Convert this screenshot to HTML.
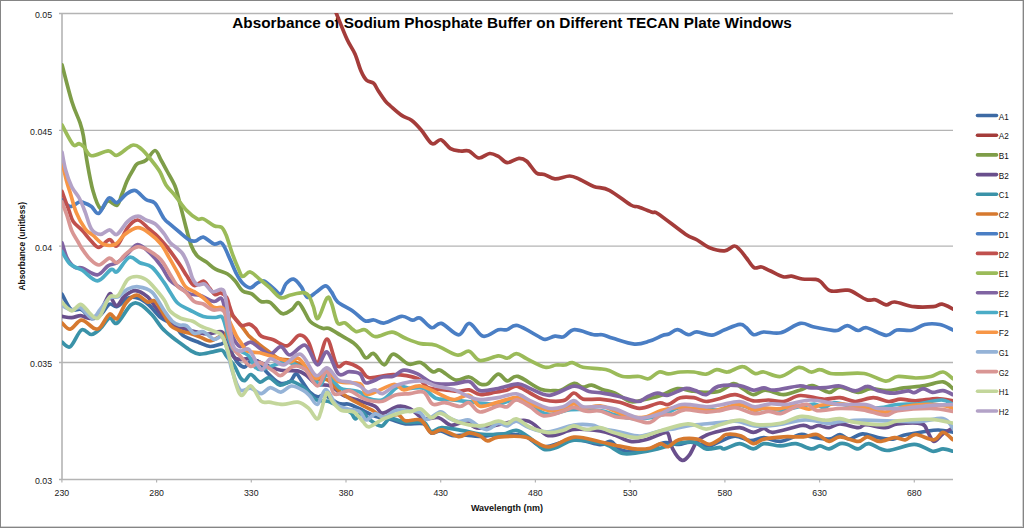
<!DOCTYPE html>
<html><head><meta charset="utf-8"><style>
html,body{margin:0;padding:0;background:#fff;}
body{width:1024px;height:528px;position:relative;overflow:hidden;font-family:"Liberation Sans",sans-serif;}
svg text{font-family:"Liberation Sans",sans-serif;}
.wrap{position:absolute;left:0;top:0;width:1024px;height:528px;}
.frame{position:absolute;left:0;top:0;width:1024px;height:528px;box-sizing:border-box;border-left:1px solid #858585;border-top:1px solid #858585;border-right:1px solid #858585;border-bottom:1px solid #858585;box-shadow:inset -1px -1px 0 #d2d2d2;}
</style></head><body>
<div class="wrap"><svg width="1024" height="528" viewBox="0 0 1024 528" style="position:absolute;left:0;top:0"><defs><clipPath id="pa"><rect x="62" y="13" width="891" height="467"/></clipPath></defs><line x1="59" y1="13.5" x2="953" y2="13.5" stroke="#b4b4b4" stroke-width="1.3"/><line x1="59" y1="130.4" x2="953" y2="130.4" stroke="#b4b4b4" stroke-width="1.3"/><line x1="59" y1="246.2" x2="953" y2="246.2" stroke="#b4b4b4" stroke-width="1.3"/><line x1="59" y1="362.5" x2="953" y2="362.5" stroke="#b4b4b4" stroke-width="1.3"/><line x1="62" y1="13.5" x2="62" y2="479.5" stroke="#b4b4b4" stroke-width="1.6"/><line x1="59" y1="479.5" x2="953" y2="479.5" stroke="#b4b4b4" stroke-width="1.6"/><line x1="61.9" y1="479.5" x2="61.9" y2="482.5" stroke="#b4b4b4" stroke-width="1.2"/><line x1="156.6" y1="479.5" x2="156.6" y2="482.5" stroke="#b4b4b4" stroke-width="1.2"/><line x1="251.3" y1="479.5" x2="251.3" y2="482.5" stroke="#b4b4b4" stroke-width="1.2"/><line x1="346.0" y1="479.5" x2="346.0" y2="482.5" stroke="#b4b4b4" stroke-width="1.2"/><line x1="440.7" y1="479.5" x2="440.7" y2="482.5" stroke="#b4b4b4" stroke-width="1.2"/><line x1="535.4" y1="479.5" x2="535.4" y2="482.5" stroke="#b4b4b4" stroke-width="1.2"/><line x1="630.2" y1="479.5" x2="630.2" y2="482.5" stroke="#b4b4b4" stroke-width="1.2"/><line x1="724.9" y1="479.5" x2="724.9" y2="482.5" stroke="#b4b4b4" stroke-width="1.2"/><line x1="819.6" y1="479.5" x2="819.6" y2="482.5" stroke="#b4b4b4" stroke-width="1.2"/><line x1="914.3" y1="479.5" x2="914.3" y2="482.5" stroke="#b4b4b4" stroke-width="1.2"/><text x="512" y="28.1" font-size="15.4" font-weight="bold" fill="#000" text-anchor="middle" textLength="559.5" lengthAdjust="spacingAndGlyphs">Absorbance of Sodium Phosphate Buffer on Different TECAN Plate Windows</text><g clip-path="url(#pa)" fill="none" stroke-width="3.7" stroke-linejoin="round" stroke-linecap="round"><path d="M62.0 294.1C63.5 296.6 67.7 306.6 70.9 309.2C74.2 311.8 78.1 307.9 81.5 309.5C84.9 311.1 88.2 317.7 91.4 318.6C94.6 319.5 97.5 317.2 100.5 314.8C103.5 312.4 106.8 305.6 109.5 304.2C112.2 302.8 114.0 307.5 117.0 306.5C120.0 305.5 124.2 299.6 127.7 298.2C131.2 296.8 134.8 297.1 138.3 298.2C141.9 299.3 145.2 301.7 149.0 305.0C152.8 308.3 156.7 314.5 161.0 317.9C165.3 321.3 171.4 322.6 175.0 325.5C178.6 328.4 178.6 332.3 182.7 335.2C186.8 338.1 194.8 340.8 199.4 342.7C204.0 344.6 206.5 346.2 210.0 346.5C213.5 346.8 217.8 344.8 220.6 344.2C223.4 343.6 224.7 340.9 226.7 342.7C228.7 344.5 230.7 351.3 232.7 354.8C234.7 358.3 236.8 361.9 238.8 363.9C240.8 365.9 242.8 367.5 244.8 367.0C246.8 366.5 248.4 361.7 250.9 360.9C253.4 360.1 257.5 360.6 260.0 362.4C262.5 364.2 262.9 368.1 266.1 371.5C269.3 374.9 275.4 381.3 279.4 383.0C283.4 384.7 287.2 383.0 290.0 381.5C292.8 380.0 294.0 373.9 296.0 373.9C298.0 373.9 299.8 378.5 302.1 381.5C304.4 384.5 307.1 389.6 309.7 392.1C312.3 394.7 315.1 396.3 317.6 396.8C320.1 397.3 321.3 394.1 324.8 395.2C328.3 396.3 334.8 402.1 338.8 403.6C342.9 405.1 345.6 403.3 349.1 404.2C352.6 405.1 355.6 407.0 360.0 409.0C364.4 411.0 370.1 414.5 375.2 416.2C380.2 417.9 385.2 417.9 390.3 419.2C395.4 420.5 399.9 423.0 405.5 423.8C411.1 424.6 419.3 422.3 423.6 423.8C427.9 425.3 428.4 431.8 431.2 433.0C434.0 434.2 437.0 430.4 440.5 430.8C444.0 431.2 447.7 434.8 452.0 435.5C456.3 436.2 461.4 435.1 466.1 435.2C470.8 435.3 473.9 436.6 480.0 436.4C486.1 436.2 495.1 434.1 502.7 434.1C510.3 434.1 518.7 434.2 525.5 436.4C532.3 438.5 535.5 446.5 543.6 447.0C551.7 447.5 564.5 439.8 573.9 439.4C583.3 439.0 593.9 444.4 600.0 444.7C606.1 445.0 606.8 440.4 610.6 441.4C614.4 442.4 616.9 449.0 622.7 450.5C628.5 452.0 638.7 451.8 645.5 450.5C652.3 449.2 658.1 443.9 663.6 442.9C669.1 441.9 674.2 444.5 678.8 444.4C683.3 444.3 685.8 441.9 690.9 442.1C696.0 442.4 704.2 446.0 709.1 445.9C714.0 445.8 715.6 443.0 720.0 441.4C724.4 439.8 730.2 436.2 735.2 436.1C740.2 436.0 745.5 440.4 750.3 440.6C755.1 440.9 758.8 437.5 763.9 437.6C769.0 437.7 774.5 441.9 780.6 441.4C786.7 440.9 795.2 435.3 800.3 434.5C805.3 433.7 806.1 436.0 810.9 436.8C815.7 437.6 824.2 439.5 829.1 439.1C834.0 438.7 836.7 434.5 840.0 434.5C843.3 434.5 845.3 439.2 849.1 439.1C852.9 439.0 857.9 434.1 862.7 433.8C867.5 433.6 872.9 436.7 877.9 437.6C882.9 438.5 888.7 439.5 893.0 439.1C897.3 438.7 898.3 436.6 903.6 435.3C908.9 434.0 919.0 432.4 924.8 431.5C930.6 430.6 933.8 429.9 938.5 430.0C943.2 430.1 950.6 431.9 953.0 432.3" stroke="#3D6AA4"/><path d="M330.0 -2.0C331.1 0.6 333.6 6.6 336.4 13.5C339.2 20.4 343.9 32.5 347.0 39.3C350.1 46.0 352.7 48.8 355.0 54.0C357.3 59.2 358.9 66.1 360.8 70.5C362.7 74.9 364.5 78.2 366.6 80.3C368.7 82.4 371.5 81.4 373.5 83.2C375.5 85.0 376.4 88.1 378.4 91.0C380.3 93.9 383.3 98.4 385.2 100.8C387.1 103.2 387.2 103.2 390.0 105.6C392.8 108.0 398.1 113.0 401.7 115.4C405.3 117.9 408.2 117.9 411.5 120.3C414.8 122.7 417.8 126.1 421.2 130.0C424.7 133.9 428.7 142.1 432.0 143.7C435.3 145.3 437.7 139.0 440.8 139.8C443.9 140.6 447.2 146.7 450.5 148.6C453.8 150.5 457.2 150.6 460.3 151.0C463.4 151.4 465.9 149.8 469.0 151.0C472.1 152.2 475.5 157.6 478.9 158.0C482.3 158.4 486.4 153.8 489.6 153.5C492.9 153.2 495.5 154.9 498.4 156.4C501.3 157.9 503.8 162.4 507.2 162.7C510.6 163.0 515.6 158.6 518.9 158.4C522.1 158.2 523.8 158.9 526.7 161.3C529.6 163.7 533.6 170.8 536.5 173.0C539.4 175.2 541.2 173.4 544.3 174.4C547.4 175.4 550.8 178.6 555.0 178.9C559.2 179.2 565.5 175.9 569.7 176.0C573.9 176.1 576.0 177.8 580.0 179.5C584.0 181.2 588.8 184.6 593.7 186.4C598.6 188.2 603.1 187.2 609.3 190.3C615.5 193.4 625.9 202.2 630.8 205.0C635.7 207.8 635.0 205.7 638.6 206.9C642.2 208.1 649.1 211.2 652.3 212.3C655.5 213.4 652.5 210.0 658.0 213.7C663.5 217.3 679.0 229.8 685.5 234.2C692.0 238.6 693.3 237.8 697.2 240.0C701.1 242.2 704.5 245.7 709.0 247.5C713.5 249.3 720.3 251.1 724.5 250.8C728.7 250.6 731.7 246.1 734.3 246.0C736.9 245.9 738.0 248.0 740.0 250.0C742.0 252.0 744.1 255.1 746.4 258.0C748.7 260.9 751.5 266.1 754.0 267.6C756.5 269.1 758.8 266.5 761.5 267.0C764.2 267.5 766.4 269.2 770.0 270.8C773.6 272.4 779.4 275.9 783.0 276.8C786.6 277.7 788.4 275.8 791.6 276.2C794.8 276.6 798.4 278.5 802.3 279.0C806.2 279.5 812.2 279.0 815.2 279.4C818.2 279.8 818.1 279.7 820.6 281.6C823.1 283.5 826.1 289.4 830.2 290.8C834.3 292.2 841.7 290.1 845.3 290.2C848.9 290.3 848.1 289.6 851.7 291.2C855.3 292.8 862.8 298.4 866.7 299.8C870.6 301.2 872.1 299.0 875.3 299.8C878.5 300.6 882.8 304.4 886.0 304.8C889.2 305.2 890.0 301.7 894.7 302.0C899.4 302.3 907.6 305.9 914.0 306.7C920.4 307.5 928.6 307.1 933.3 306.7C938.0 306.3 938.7 303.7 942.0 304.1C945.3 304.5 951.2 308.2 953.0 309.0" stroke="#A43C3A"/><path d="M62.0 64.8C63.7 71.0 69.0 92.3 72.0 102.0C75.0 111.7 78.1 117.0 80.0 122.7C81.9 128.4 82.3 129.7 83.4 136.0C84.5 142.3 85.2 151.2 86.8 160.3C88.4 169.4 90.6 182.5 92.9 190.6C95.2 198.7 98.0 207.0 100.5 208.7C103.0 210.4 105.2 201.6 108.0 201.0C110.8 200.4 114.7 206.5 117.0 205.3C119.3 204.1 120.3 198.1 122.0 194.0C123.7 189.9 125.2 185.0 127.0 181.0C128.8 177.0 131.3 172.8 133.0 170.0C134.7 167.2 134.8 165.6 137.0 164.0C139.2 162.4 143.0 162.6 146.0 160.3C149.0 158.1 152.5 150.6 155.0 150.5C157.5 150.4 159.0 156.6 161.0 160.0C163.0 163.4 164.7 166.7 167.0 171.0C169.3 175.3 173.0 181.2 175.0 186.0C177.0 190.8 177.3 193.6 179.0 200.0C180.7 206.4 183.2 216.6 185.2 224.2C187.2 231.8 189.2 240.2 191.2 245.5C193.2 250.8 194.8 253.2 197.3 256.0C199.8 258.8 203.4 259.9 206.4 262.1C209.4 264.3 212.0 267.2 215.5 269.2C219.0 271.2 224.3 272.0 227.6 274.0C230.9 276.0 232.7 278.2 235.2 281.0C237.7 283.8 239.9 288.8 242.7 290.9C245.5 293.0 248.8 292.1 251.8 293.9C254.8 295.7 257.9 300.1 260.9 301.5C263.9 302.9 266.5 300.3 270.0 302.3C273.5 304.3 278.4 312.4 282.1 313.6C285.8 314.8 289.4 311.2 292.1 309.4C294.8 307.6 296.2 302.4 298.2 302.6C300.2 302.9 302.2 307.8 304.2 310.9C306.2 314.0 307.3 318.6 310.3 321.5C313.3 324.4 319.4 327.2 322.4 328.3C325.4 329.4 325.5 327.2 328.5 328.3C331.5 329.4 336.5 332.8 340.6 335.2C344.7 337.6 350.1 340.3 353.3 342.7C356.5 345.1 357.9 347.1 360.0 349.7C362.1 352.2 363.8 357.4 366.1 358.0C368.4 358.6 370.6 352.4 373.6 353.5C376.6 354.6 380.9 364.7 384.2 364.8C387.5 364.9 389.2 354.3 393.3 354.2C397.4 354.1 403.9 362.7 408.5 364.1C413.1 365.5 416.6 361.3 420.6 362.6C424.6 363.9 429.4 370.4 432.7 371.7C436.0 373.0 436.5 368.8 440.3 370.2C444.1 371.6 450.7 378.9 455.5 380.0C460.3 381.1 465.0 376.4 469.1 377.0C473.2 377.6 476.9 382.8 480.0 383.9C483.1 385.0 484.6 385.5 487.6 383.9C490.6 382.3 494.9 374.6 498.2 374.1C501.5 373.6 504.0 380.5 507.3 380.9C510.6 381.3 512.4 375.0 517.9 376.4C523.4 377.8 534.3 386.8 540.6 389.2C546.9 391.6 552.3 390.5 555.8 390.6C559.3 390.8 558.3 391.3 561.4 390.1C564.5 388.9 570.7 383.9 574.2 383.4C577.7 382.9 579.7 386.9 582.6 387.2C585.5 387.5 588.3 384.8 591.7 385.2C595.1 385.6 599.1 388.4 603.0 389.7C606.9 391.0 610.7 391.2 615.2 393.2C619.8 395.2 625.8 400.4 630.3 401.5C634.8 402.6 637.3 401.0 642.4 400.0C647.5 399.0 654.8 397.4 660.6 395.5C666.4 393.6 672.2 389.4 677.3 388.6C682.3 387.8 686.1 390.3 690.9 390.9C695.7 391.5 701.2 392.4 706.1 392.4C711.0 392.4 715.4 392.4 720.0 390.9C724.6 389.4 729.8 384.0 733.6 383.6C737.4 383.2 739.4 386.8 742.7 388.6C746.0 390.5 749.5 394.4 753.3 394.7C757.1 395.0 760.5 390.2 765.5 390.2C770.5 390.2 777.6 394.8 783.6 394.7C789.6 394.6 797.0 390.9 801.8 389.4C806.6 387.9 807.8 385.1 812.4 385.6C817.0 386.1 824.5 392.1 829.1 392.4C833.7 392.6 835.1 387.1 840.0 387.1C844.9 387.1 853.2 392.1 858.2 392.4C863.2 392.6 865.5 388.9 870.3 388.6C875.1 388.3 881.5 390.7 887.0 390.6C892.5 390.5 897.3 388.7 903.6 387.9C909.9 387.1 918.2 386.6 924.8 385.6C931.4 384.6 938.3 381.3 943.0 381.8C947.7 382.3 951.3 387.5 953.0 388.6" stroke="#7E9D48"/><path d="M62.0 316.4C63.6 316.6 68.5 317.7 71.6 317.6C74.7 317.5 77.7 315.6 80.7 315.7C83.7 315.8 86.8 318.6 89.8 318.3C92.8 318.0 95.6 317.8 98.9 313.8C102.2 309.8 107.2 296.4 109.5 294.1C111.8 291.8 111.2 298.2 112.5 300.2C113.8 302.1 115.0 306.5 117.0 305.8C119.0 305.1 121.7 298.5 124.7 296.0C127.8 293.5 131.5 290.5 135.3 290.6C139.1 290.7 143.6 293.4 147.4 296.7C151.2 300.0 154.2 306.0 158.0 310.3C161.8 314.6 166.0 319.4 170.0 322.4C174.0 325.3 177.7 326.4 182.0 328.0C186.3 329.6 191.5 330.8 195.8 331.8C200.1 332.8 203.7 334.0 208.0 334.0C212.3 334.0 218.5 330.8 221.5 331.8C224.5 332.8 224.1 336.0 226.0 340.0C227.9 344.0 230.7 352.8 233.0 356.0C235.3 359.2 237.1 359.0 240.0 359.5C242.9 360.0 246.0 357.8 250.6 358.8C255.2 359.8 262.2 363.7 267.3 365.6C272.4 367.5 275.8 369.3 280.9 370.2C285.9 371.1 293.3 370.0 297.6 370.9C301.9 371.8 303.7 373.4 306.7 375.5C309.7 377.6 311.8 382.1 315.8 383.8C319.8 385.6 326.4 384.1 330.9 386.0C335.4 387.9 338.1 392.7 343.0 395.2C347.9 397.7 354.6 399.1 360.0 401.0C365.4 402.9 371.4 404.4 375.2 406.4C379.0 408.4 378.9 413.2 382.7 413.2C386.5 413.2 393.3 407.2 397.9 406.4C402.4 405.6 405.7 406.6 410.0 408.6C414.3 410.6 418.8 417.0 423.6 418.5C428.4 420.0 434.2 416.6 438.8 417.7C443.4 418.8 446.3 424.7 450.9 425.3C455.4 425.9 461.2 421.0 466.1 421.5C471.0 422.0 470.1 428.4 480.0 428.2C489.9 428.0 514.1 419.3 525.5 420.5C536.9 421.7 540.1 434.1 548.2 435.6C556.3 437.1 565.3 430.3 573.9 429.5C582.5 428.7 593.1 430.0 600.0 431.0C606.9 432.0 610.2 433.6 615.2 435.3C620.2 437.0 625.2 440.6 630.3 441.4C635.3 442.1 640.0 441.2 645.5 439.8C651.0 438.4 659.8 434.0 663.6 433.0C667.4 432.0 666.7 431.2 668.2 433.8C669.7 436.4 670.4 444.5 672.7 448.9C675.0 453.3 679.0 459.3 681.8 460.3C684.6 461.3 686.9 458.1 689.4 455.0C691.9 451.9 694.2 444.7 697.0 441.4C699.8 438.1 702.3 437.0 706.1 435.3C709.9 433.6 714.4 432.3 720.0 431.0C725.6 429.7 734.2 427.5 739.7 427.7C745.2 427.9 749.3 432.2 753.3 432.3C757.3 432.4 760.6 428.5 763.9 428.5C767.2 428.5 766.7 432.8 773.0 432.3C779.3 431.8 795.5 426.3 801.8 425.5C808.1 424.7 808.1 427.7 810.9 427.7C813.7 427.7 815.5 425.5 818.5 425.5C821.5 425.5 825.5 428.0 829.1 427.7C832.7 427.4 835.1 423.9 840.0 423.9C844.9 423.9 853.9 427.6 858.2 427.7C862.5 427.8 861.2 424.7 865.8 424.7C870.3 424.7 880.2 427.8 885.5 427.7C890.8 427.6 891.6 424.5 897.6 423.9C903.6 423.3 916.8 422.5 921.8 423.9C926.8 425.3 925.9 429.4 927.9 432.3C929.9 435.2 931.4 441.1 933.9 441.4C936.4 441.6 939.8 436.1 943.0 433.8C946.2 431.5 951.3 428.7 953.0 427.7" stroke="#694F8C"/><path d="M62.0 342.1C63.4 342.9 67.0 348.7 70.2 346.7C73.5 344.7 78.0 332.0 81.5 330.0C85.0 328.0 88.2 334.8 91.4 334.5C94.6 334.2 97.5 331.3 100.5 328.5C103.5 325.7 106.8 318.8 109.5 317.9C112.2 317.0 113.5 325.3 117.0 323.2C120.5 321.1 127.0 308.2 130.8 305.0C134.6 301.8 136.3 302.6 139.8 304.2C143.3 305.8 148.3 310.8 152.0 314.8C155.7 318.8 158.7 324.3 162.0 328.0C165.3 331.7 169.1 334.6 172.0 337.0C174.9 339.4 176.6 340.5 179.7 342.7C182.8 344.9 187.0 348.4 190.3 350.3C193.6 352.2 195.6 353.9 199.4 354.1C203.2 354.4 209.2 352.4 213.0 351.8C216.8 351.2 219.8 349.5 222.1 350.3C224.4 351.1 224.7 353.9 226.7 356.4C228.7 358.9 231.9 362.0 234.2 365.5C236.5 369.0 238.5 375.1 240.3 377.6C242.1 380.1 243.0 381.1 244.8 380.6C246.6 380.1 248.4 374.2 250.9 374.5C253.4 374.8 257.0 381.6 260.0 382.1C263.0 382.6 265.8 377.1 269.1 377.6C272.4 378.1 276.3 384.6 280.0 385.2C283.7 385.8 287.6 381.1 291.5 381.5C295.4 381.9 299.6 384.6 303.6 387.6C307.7 390.6 311.8 397.4 315.8 399.7C319.9 402.0 323.9 400.0 327.9 401.2C331.9 402.4 336.2 405.1 340.0 407.0C343.8 408.9 348.3 410.7 350.9 412.7C353.5 414.7 353.6 418.9 355.5 418.8C357.4 418.7 359.7 411.9 362.0 412.0C364.3 412.1 365.9 416.8 369.1 419.2C372.3 421.6 377.7 426.2 381.2 426.1C384.7 426.0 386.2 419.1 390.3 418.5C394.4 417.9 399.9 421.7 405.5 422.3C411.1 422.9 419.3 420.8 423.6 422.3C427.9 423.8 428.2 430.5 431.2 431.4C434.2 432.3 436.5 427.7 441.8 427.6C447.1 427.5 456.6 429.5 463.0 430.6C469.4 431.7 473.4 433.4 480.0 434.0C486.6 434.6 496.6 434.7 502.7 434.1C508.8 433.5 511.8 429.7 516.4 430.3C520.9 430.9 525.5 434.8 530.0 437.9C534.5 441.0 539.3 447.6 543.6 449.2C547.9 450.8 550.8 449.2 555.8 447.7C560.8 446.2 566.5 441.0 573.9 440.2C581.3 439.4 594.1 442.1 600.0 443.0C605.9 443.9 605.3 444.1 609.1 445.9C612.9 447.6 617.9 452.4 622.7 453.5C627.5 454.6 632.1 453.5 637.9 452.7C643.7 451.9 651.3 450.4 657.6 448.9C663.9 447.4 669.8 444.7 675.8 443.6C681.8 442.5 688.8 441.2 693.9 442.1C699.0 443.0 701.8 448.0 706.1 448.9C710.5 449.8 716.9 447.4 720.0 447.4C723.1 447.4 721.2 449.5 724.5 448.9C727.8 448.3 734.9 443.6 739.7 443.6C744.5 443.6 749.3 448.9 753.3 448.9C757.3 448.9 759.3 444.1 763.9 443.6C768.5 443.1 775.3 445.9 780.6 445.9C785.9 445.9 790.8 443.1 795.8 443.6C800.8 444.1 806.9 448.5 810.9 448.9C814.9 449.3 817.0 445.9 820.0 445.9C823.0 445.9 825.8 449.3 829.1 448.9C832.4 448.5 836.9 444.4 840.0 443.6C843.1 442.9 844.6 443.5 847.6 444.4C850.6 445.3 854.7 449.0 858.2 448.9C861.7 448.8 864.0 443.3 868.8 443.6C873.6 443.9 879.4 450.4 887.0 450.5C894.6 450.6 906.6 444.3 914.2 444.4C921.8 444.5 927.6 450.4 932.4 451.2C937.2 451.9 939.6 448.9 943.0 448.9C946.4 448.9 951.3 450.8 953.0 451.2" stroke="#3A92A8"/><path d="M62.0 322.9C63.4 323.9 67.0 329.6 70.2 329.2C73.5 328.8 77.5 320.3 81.5 320.2C85.5 320.1 91.2 327.4 94.4 328.5C97.6 329.6 98.0 329.4 100.5 327.0C103.0 324.6 106.8 315.5 109.5 314.1C112.2 312.7 114.2 320.5 117.0 318.6C119.8 316.7 122.9 306.6 126.2 302.7C129.5 298.8 133.3 295.3 136.8 295.2C140.3 295.1 144.4 301.0 147.4 302.0C150.4 303.0 152.2 299.1 155.0 301.2C157.8 303.3 161.3 310.7 164.0 314.8C166.7 318.9 168.4 323.4 171.0 326.0C173.6 328.6 176.3 329.2 179.5 330.5C182.7 331.8 187.0 332.6 190.3 333.6C193.6 334.6 196.1 335.5 199.4 336.7C202.7 337.9 206.4 341.1 210.0 341.0C213.6 340.9 218.5 336.5 221.0 336.0C223.5 335.5 223.7 341.0 225.0 338.0C226.3 335.0 227.8 321.8 229.0 318.0C230.2 314.2 230.5 314.9 232.0 315.5C233.5 316.1 235.7 319.1 238.0 321.8C240.3 324.5 244.0 329.4 245.8 331.8C247.7 334.2 247.0 334.1 249.1 336.1C251.2 338.1 255.2 341.2 258.2 343.6C261.2 346.0 263.8 348.0 267.3 350.5C270.8 353.0 275.6 357.2 279.4 358.8C283.2 360.4 286.0 359.0 290.0 360.3C294.0 361.6 299.3 363.4 303.6 366.4C307.9 369.4 311.8 376.2 315.8 378.5C319.9 380.8 324.1 378.0 327.9 380.0C331.7 382.0 335.0 387.6 338.5 390.6C342.0 393.6 345.5 395.9 349.1 398.2C352.7 400.5 356.2 402.2 360.0 404.2C363.8 406.2 368.3 408.1 372.1 410.2C375.9 412.3 378.4 416.2 382.7 417.0C387.0 417.8 394.1 414.1 397.9 414.7C401.7 415.3 401.7 419.9 405.5 420.8C409.3 421.7 416.3 418.0 420.6 420.0C424.9 422.0 427.7 431.3 431.2 432.9C434.7 434.5 437.2 429.2 441.8 429.8C446.4 430.4 453.9 436.2 458.5 436.7C463.1 437.2 465.5 433.0 469.1 432.9C472.7 432.8 476.9 434.6 480.0 435.9C483.1 437.2 484.6 440.7 487.6 440.9C490.6 441.1 491.9 437.7 498.2 437.1C504.5 436.5 517.2 435.5 525.5 437.1C533.8 438.8 540.1 447.0 548.2 447.0C556.3 447.0 565.3 438.0 573.9 437.1C582.5 436.2 593.1 440.4 600.0 441.7C606.9 443.0 609.4 444.0 615.2 445.2C621.0 446.4 629.0 448.4 634.8 448.9C640.6 449.4 645.7 449.1 650.0 448.2C654.3 447.3 657.6 443.9 660.6 443.6C663.6 443.4 665.2 447.3 668.2 446.7C671.2 446.1 674.0 441.1 678.8 439.8C683.6 438.5 692.0 438.3 697.0 439.1C702.0 439.9 705.3 444.4 709.1 444.4C712.9 444.4 717.2 440.8 720.0 439.1C722.8 437.5 722.6 435.0 726.1 434.5C729.6 434.0 736.7 434.6 741.2 436.1C745.7 437.6 749.5 443.1 753.3 443.6C757.1 444.1 758.8 440.2 763.9 439.1C769.0 438.0 777.0 437.2 783.6 436.8C790.2 436.4 797.7 437.2 803.3 436.8C808.9 436.4 812.7 433.7 817.0 434.5C821.3 435.3 825.3 441.0 829.1 441.4C832.9 441.8 835.1 436.8 840.0 436.8C844.9 436.8 853.7 441.4 858.2 441.4C862.8 441.4 863.8 436.8 867.3 436.8C870.8 436.8 874.9 441.3 879.4 441.4C883.9 441.5 890.2 437.9 894.5 437.6C898.8 437.3 901.7 440.3 905.2 439.8C908.8 439.3 911.0 434.5 915.8 434.5C920.6 434.5 929.4 440.2 933.9 439.8C938.4 439.4 939.8 432.3 943.0 432.3C946.2 432.3 951.3 438.6 953.0 439.8" stroke="#D6792F"/><path d="M62.0 199.7C63.4 200.8 67.2 206.1 70.1 206.5C73.0 206.9 76.9 202.6 79.2 202.0C81.5 201.4 81.8 202.0 83.8 202.7C85.8 203.4 88.9 204.6 91.4 206.4C93.9 208.2 96.0 214.7 98.9 213.3C101.8 211.9 105.8 199.8 108.8 198.0C111.8 196.2 114.1 203.2 117.0 202.6C119.9 202.0 123.2 196.2 126.2 194.2C129.2 192.2 132.0 189.6 135.3 190.5C138.6 191.4 142.6 197.4 145.9 199.5C149.2 201.6 152.0 200.1 155.0 203.3C158.0 206.5 161.5 215.0 164.0 218.5C166.5 222.0 167.5 222.0 170.0 224.2C172.5 226.4 175.8 229.1 179.1 231.8C182.4 234.5 186.9 238.7 189.7 240.2C192.5 241.7 193.5 241.4 195.8 240.9C198.1 240.4 200.3 236.6 203.3 237.1C206.3 237.6 211.1 243.1 214.0 244.0C216.9 244.9 219.1 241.9 220.8 242.4C222.6 242.9 222.9 244.0 224.5 247.0C226.1 250.0 228.6 256.1 230.6 260.6C232.6 265.1 234.7 270.4 236.7 274.2C238.7 278.0 240.4 281.0 242.7 283.3C245.0 285.6 247.8 288.0 250.3 287.9C252.8 287.8 255.6 283.7 257.9 282.6C260.2 281.5 261.4 280.2 263.9 281.1C266.4 282.0 270.2 285.8 273.0 287.9C275.8 290.0 278.4 294.6 280.6 293.9C282.8 293.2 283.9 286.1 286.1 283.6C288.3 281.1 291.1 278.6 293.6 279.1C296.1 279.6 298.9 283.7 301.2 286.7C303.5 289.7 304.8 296.4 307.3 297.3C309.8 298.2 313.4 293.9 316.4 292.0C319.4 290.1 323.0 285.9 325.5 285.9C328.0 285.9 329.5 289.4 331.5 292.0C333.5 294.6 334.1 298.7 337.6 301.8C341.1 304.9 348.2 307.7 352.7 310.9C357.2 314.1 361.3 319.3 364.8 320.8C368.3 322.3 370.6 319.6 373.9 320.0C377.2 320.4 379.8 323.6 384.4 323.0C389.0 322.4 396.9 316.8 401.6 316.3C406.3 315.8 409.3 319.9 412.4 320.2C415.4 320.5 416.7 316.8 419.9 318.0C423.1 319.2 428.1 326.8 431.7 327.7C435.3 328.6 436.9 322.2 441.4 323.4C445.9 324.6 454.0 334.8 458.6 334.8C463.2 334.8 465.2 323.1 469.3 323.4C473.4 323.6 478.5 335.2 483.3 336.3C488.1 337.4 494.4 330.9 498.3 329.8C502.2 328.7 503.7 330.5 506.9 329.8C510.1 329.1 512.1 324.2 517.6 325.5C523.1 326.8 535.4 335.0 540.0 337.3C544.6 339.6 542.9 339.6 545.4 339.4C547.9 339.2 552.0 336.6 555.0 336.2C558.0 335.8 560.4 337.9 563.6 336.8C566.8 335.7 569.4 330.1 574.4 329.7C579.4 329.3 589.1 333.9 593.7 334.7C598.4 335.5 599.1 334.1 602.3 334.7C605.5 335.3 607.6 336.7 613.0 338.3C618.4 339.9 628.4 343.6 634.5 344.1C640.6 344.6 645.0 342.5 649.6 341.1C654.2 339.7 659.2 336.7 662.4 335.5C665.6 334.3 666.4 335.0 668.9 334.0C671.4 333.0 674.3 329.6 677.5 329.7C680.7 329.8 685.0 334.3 688.2 334.7C691.4 335.1 692.8 331.8 696.8 331.9C700.8 332.0 707.2 335.5 711.9 335.1C716.5 334.7 720.1 331.5 724.7 329.7C729.4 327.9 736.2 324.8 739.8 324.4C743.4 324.0 743.9 325.9 746.2 327.6C748.5 329.3 750.8 334.0 753.7 334.7C756.6 335.4 759.1 332.3 763.6 332.0C768.1 331.7 774.7 334.1 780.8 332.7C786.9 331.3 794.8 324.4 800.2 323.4C805.6 322.4 807.6 325.5 813.0 326.7C818.4 327.9 828.1 329.8 832.4 330.3C836.7 330.9 836.3 330.8 838.8 330.0C841.3 329.2 844.2 325.5 847.4 325.6C850.6 325.7 854.8 330.1 858.0 330.5C861.2 330.9 862.0 326.9 866.7 327.7C871.4 328.5 881.0 334.9 886.0 335.3C891.0 335.7 892.5 330.8 896.8 330.0C901.1 329.2 907.2 331.2 911.9 330.3C916.5 329.4 920.1 325.5 924.7 324.5C929.4 323.5 935.1 323.6 939.8 324.5C944.5 325.4 950.8 329.1 953.0 330.0" stroke="#4A7EC4"/><path d="M62.0 191.4C63.1 194.4 66.7 204.4 68.6 209.4C70.5 214.4 70.9 218.0 73.2 221.5C75.5 225.0 79.3 227.3 82.3 230.6C85.3 233.9 88.6 238.4 91.4 241.2C94.2 244.0 96.0 247.6 99.0 247.3C102.0 247.1 106.5 239.9 109.5 239.7C112.5 239.4 114.0 247.8 117.0 245.8C120.0 243.8 124.3 231.9 127.7 227.6C131.1 223.3 134.0 219.8 137.6 220.0C141.2 220.2 145.6 226.2 149.0 229.0C152.4 231.8 155.0 233.7 158.0 236.7C161.0 239.7 163.5 242.5 167.0 247.0C170.5 251.5 175.8 258.8 179.1 263.6C182.4 268.4 184.2 272.1 186.7 275.8C189.2 279.5 191.4 284.7 194.2 285.6C197.0 286.5 200.8 280.7 203.3 281.1C205.8 281.5 207.5 285.8 209.4 288.0C211.3 290.2 213.1 293.7 215.0 294.5C216.9 295.3 218.7 292.5 220.6 293.0C222.5 293.5 225.2 295.3 226.7 297.6C228.2 299.9 228.7 303.8 229.7 306.7C230.7 309.6 231.6 312.7 232.7 315.0C233.8 317.3 235.0 318.5 236.5 320.3C238.0 322.1 239.7 325.0 241.8 325.6C244.0 326.2 247.1 323.6 249.4 324.1C251.7 324.6 253.5 326.6 255.5 328.6C257.5 330.6 258.2 334.2 261.2 336.1C264.2 338.0 269.0 338.2 273.3 339.8C277.6 341.4 282.7 346.6 287.0 345.9C291.3 345.1 295.6 336.1 299.1 335.3C302.6 334.6 305.2 336.8 308.2 341.4C311.2 345.9 314.1 363.0 317.3 362.6C320.5 362.2 323.8 338.6 327.1 339.1C330.4 339.6 333.8 361.7 337.0 365.6C340.2 369.5 342.3 362.1 346.1 362.6C349.9 363.1 356.2 366.0 360.0 368.5C363.8 371.0 363.6 376.7 369.1 377.7C374.7 378.7 385.2 374.6 393.3 374.7C401.4 374.8 411.8 376.4 417.6 378.5C423.4 380.6 423.7 385.7 428.2 387.6C432.7 389.5 439.8 389.2 444.8 389.8C449.9 390.4 454.4 391.4 458.5 391.4C462.6 391.4 465.5 389.3 469.1 389.8C472.7 390.3 475.6 394.1 480.0 394.5C484.4 394.9 490.6 393.1 495.2 392.3C499.8 391.6 503.8 391.0 507.3 390.0C510.8 389.0 512.6 385.7 516.4 386.2C520.2 386.7 525.5 390.7 530.0 393.0C534.5 395.3 538.1 398.5 543.6 399.8C549.1 401.1 558.2 401.7 563.3 400.6C568.3 399.5 570.6 393.2 573.9 393.0C577.2 392.8 578.6 398.1 583.0 399.1C587.4 400.1 593.9 398.7 600.0 399.2C606.1 399.7 613.1 400.8 619.7 402.3C626.3 403.8 632.8 408.2 639.4 408.3C646.0 408.4 654.3 403.6 659.1 403.0C663.9 402.4 664.7 405.4 668.2 404.5C671.7 403.6 676.0 398.8 680.3 397.7C684.6 396.6 689.6 397.1 693.9 397.7C698.2 398.3 701.8 401.4 706.1 401.5C710.5 401.6 715.1 399.6 720.0 398.5C724.9 397.4 729.7 394.3 735.2 394.7C740.8 395.1 747.8 399.9 753.3 400.8C758.8 401.7 763.5 399.9 768.5 400.0C773.5 400.1 778.3 402.2 783.6 401.5C788.9 400.8 793.7 395.9 800.3 395.5C806.9 395.1 816.4 398.8 823.0 399.2C829.6 399.6 834.6 397.3 840.0 397.7C845.4 398.1 849.7 401.5 855.2 401.5C860.8 401.5 867.8 397.7 873.3 397.7C878.8 397.7 884.0 401.2 888.5 401.5C893.0 401.8 896.1 399.3 900.6 399.2C905.1 399.1 909.7 400.9 915.8 400.8C921.9 400.7 930.8 398.5 937.0 398.5C943.2 398.5 950.3 400.4 953.0 400.8" stroke="#C0504D"/><path d="M62.0 125.0C63.8 128.2 70.2 141.4 73.0 144.5C75.8 147.6 77.2 143.2 79.0 143.6C80.8 144.0 81.7 144.7 83.8 146.7C85.9 148.7 87.3 155.0 91.4 155.7C95.5 156.4 103.9 150.9 108.2 150.8C112.5 150.7 113.0 156.2 117.0 155.3C121.0 154.4 128.2 146.2 132.3 145.2C136.4 144.1 138.1 146.4 141.4 149.0C144.7 151.6 148.9 157.2 152.0 161.0C155.1 164.8 157.7 168.0 160.0 172.0C162.3 176.0 163.5 181.1 166.0 185.0C168.5 188.9 171.6 191.2 175.0 195.5C178.4 199.8 183.0 206.7 186.7 210.6C190.4 214.5 194.5 217.5 197.3 218.9C200.1 220.3 200.5 217.8 203.3 218.9C206.1 220.1 211.0 224.4 214.0 225.8C217.0 227.2 219.5 225.8 221.5 227.3C223.5 228.8 224.2 230.5 226.0 234.8C227.8 239.1 230.1 247.4 232.1 253.0C234.1 258.6 236.4 264.3 238.2 268.2C240.0 272.1 240.7 275.9 242.7 276.5C244.7 277.1 247.3 271.4 250.3 272.0C253.3 272.6 257.6 277.7 260.9 280.3C264.2 282.9 266.7 285.0 270.0 287.9C273.3 290.8 277.2 296.5 280.6 297.7C284.0 298.9 286.9 295.8 290.6 295.0C294.3 294.2 299.7 292.6 302.7 292.7C305.7 292.8 307.0 293.5 308.8 295.8C310.6 298.1 311.8 302.6 313.3 306.4C314.8 310.2 315.6 319.9 317.9 318.5C320.2 317.1 324.7 300.5 327.0 298.0C329.3 295.5 329.7 299.1 331.5 303.3C333.3 307.5 335.3 319.7 337.6 323.0C339.9 326.3 342.2 321.6 345.2 323.0C348.2 324.4 352.5 330.3 355.8 331.4C359.1 332.5 361.5 328.9 364.8 329.8C368.1 330.7 370.9 336.3 375.5 336.7C380.1 337.1 387.1 331.8 392.1 332.1C397.1 332.4 400.8 336.4 405.5 338.3C410.2 340.2 415.6 342.5 420.6 343.6C425.7 344.8 429.7 343.3 435.8 345.2C441.9 347.1 451.4 354.0 457.0 355.0C462.6 356.0 465.3 350.3 469.1 351.2C472.9 352.1 475.1 359.7 480.0 360.5C484.9 361.3 493.6 356.3 498.2 355.9C502.8 355.5 504.3 358.6 507.3 358.2C510.3 357.8 513.1 353.5 516.4 353.6C519.7 353.7 522.2 356.6 527.0 358.9C531.8 361.2 540.4 366.3 545.2 367.3C550.0 368.3 552.5 365.4 555.8 365.0C559.1 364.6 562.0 365.4 564.8 365.0C567.6 364.6 569.4 362.3 572.4 362.7C575.4 363.1 578.4 366.3 583.0 367.3C587.6 368.3 595.6 368.3 600.0 368.8C604.4 369.3 605.3 369.2 609.1 370.5C612.9 371.8 617.7 375.5 622.7 376.5C627.8 377.5 635.1 376.1 639.4 376.5C643.7 376.9 645.2 379.6 648.5 378.8C651.8 378.1 655.8 372.8 659.1 372.0C662.4 371.2 664.7 373.9 668.2 373.9C671.7 373.9 676.0 372.3 680.3 372.0C684.6 371.7 689.6 371.6 693.9 372.0C698.2 372.4 702.3 374.6 706.1 374.2C709.9 373.8 713.1 370.1 716.7 369.7C720.3 369.3 723.3 372.5 727.6 372.0C731.9 371.5 738.2 366.4 742.7 366.7C747.2 366.9 751.3 372.6 754.8 373.5C758.3 374.4 759.6 371.5 763.9 372.0C768.2 372.5 774.8 377.3 780.6 376.5C786.4 375.7 793.8 368.1 798.8 367.4C803.8 366.6 807.4 371.6 810.9 372.0C814.4 372.4 816.7 369.4 820.0 369.7C823.3 369.9 827.3 372.8 830.6 373.5C833.9 374.2 834.4 373.9 840.0 373.9C845.6 373.9 856.6 372.3 864.2 373.5C871.8 374.7 879.9 380.6 885.5 381.1C891.1 381.6 892.6 377.0 897.6 376.5C902.6 376.0 910.2 378.0 915.8 378.0C921.3 378.0 926.4 377.5 930.9 376.5C935.4 375.5 939.3 371.6 943.0 372.0C946.7 372.4 951.3 377.7 953.0 378.8" stroke="#9BBB59"/><path d="M62.0 242.8C62.9 245.4 65.0 254.1 67.1 258.2C69.2 262.3 72.2 265.7 74.7 267.3C77.2 268.9 78.5 266.8 82.3 268.0C86.1 269.2 93.1 275.2 97.4 274.8C101.7 274.4 104.7 267.8 108.0 265.8C111.3 263.8 113.7 264.7 117.0 262.7C120.3 260.7 124.3 256.6 127.7 253.6C131.1 250.6 134.0 244.8 137.6 244.5C141.2 244.2 145.1 248.5 149.0 252.1C152.9 255.7 157.5 261.1 161.0 265.8C164.5 270.5 166.7 276.6 170.0 280.3C173.3 284.0 177.3 285.6 180.6 287.9C183.9 290.2 186.4 292.6 189.7 293.9C193.0 295.2 196.3 294.2 200.3 295.5C204.3 296.8 210.4 301.0 213.9 301.5C217.4 302.0 219.5 296.6 221.5 298.5C223.5 300.4 224.2 306.9 226.0 313.0C227.8 319.1 229.7 329.4 232.0 335.0C234.3 340.6 236.9 345.3 240.0 346.5C243.1 347.7 247.3 341.8 250.6 342.1C253.9 342.4 256.4 346.2 259.7 348.2C263.0 350.2 266.8 354.4 270.3 354.2C273.8 353.9 277.6 346.6 280.9 346.7C284.2 346.8 285.9 355.2 290.0 355.0C294.1 354.8 300.6 343.6 305.2 345.2C309.8 346.8 313.6 363.7 317.3 364.8C321.0 365.9 323.6 350.5 327.1 352.0C330.6 353.5 334.8 370.6 338.5 373.9C342.2 377.2 345.5 371.7 349.1 371.7C352.7 371.7 357.2 372.0 360.0 373.9C362.8 375.8 362.3 382.5 366.1 383.0C369.9 383.5 378.2 378.1 382.7 377.0C387.2 375.9 389.8 377.3 393.3 376.2C396.8 375.1 399.8 370.6 403.9 370.2C407.9 369.8 412.8 371.8 417.6 373.9C422.4 376.0 426.6 381.4 432.7 383.0C438.8 384.6 447.8 384.1 453.9 383.8C460.0 383.6 464.8 380.4 469.1 381.5C473.5 382.6 475.1 389.4 480.0 390.6C484.9 391.8 491.9 389.6 498.2 388.5C504.5 387.4 512.6 383.9 517.9 383.9C523.2 383.9 524.7 386.6 530.0 388.5C535.3 390.4 542.4 395.7 549.7 395.3C557.0 394.9 567.3 386.8 573.9 386.2C580.5 385.6 584.8 390.4 589.1 391.5C593.5 392.6 595.1 391.9 600.0 392.7C604.9 393.5 611.9 394.7 618.2 396.2C624.5 397.7 633.1 401.4 637.9 401.5C642.7 401.6 643.7 398.4 647.0 397.0C650.3 395.6 654.1 393.5 657.6 393.2C661.1 392.9 663.7 396.0 668.2 395.2C672.7 394.4 680.2 389.4 684.8 388.6C689.3 387.8 692.0 389.6 695.5 390.6C699.0 391.6 702.3 395.4 706.1 394.7C709.9 394.0 712.6 387.9 718.2 386.4C723.8 384.9 733.9 385.0 739.7 385.6C745.6 386.2 749.3 389.8 753.3 390.2C757.3 390.6 760.4 387.9 763.9 387.9C767.4 387.9 768.7 390.5 774.5 390.2C780.3 389.9 792.7 386.4 798.8 386.0C804.9 385.6 806.3 387.6 810.9 387.9C815.5 388.2 821.2 387.9 826.1 387.6C831.0 387.3 835.1 385.4 840.0 386.0C844.9 386.6 850.7 390.8 855.2 390.9C859.8 391.0 863.5 386.4 867.3 386.4C871.1 386.3 873.6 389.5 877.9 390.6C882.2 391.7 888.0 393.1 893.0 393.2C898.0 393.2 904.7 391.0 908.2 390.9C911.7 390.8 911.7 393.1 914.2 392.7C916.7 392.3 920.3 388.7 923.3 388.6C926.3 388.6 929.1 392.1 932.4 392.4C935.7 392.7 939.6 390.2 943.0 390.6C946.4 391.0 951.3 394.0 953.0 394.7" stroke="#8064A2"/><path d="M62.0 251.5C63.4 253.6 66.8 261.1 70.2 264.2C73.6 267.3 77.8 267.5 82.3 270.3C86.8 273.1 92.6 281.0 97.4 280.9C102.2 280.8 107.8 271.0 111.1 269.5C114.4 268.0 114.0 273.8 117.0 271.8C120.0 269.8 125.4 258.9 129.2 257.4C133.0 255.9 136.0 261.0 139.8 262.7C143.6 264.4 148.0 264.0 152.0 267.3C156.0 270.6 161.0 278.3 164.0 282.4C167.0 286.5 167.7 288.6 170.0 292.0C172.3 295.4 174.3 300.0 177.6 303.0C180.9 306.0 185.4 307.8 189.7 310.0C194.0 312.2 199.0 315.2 203.3 316.5C207.6 317.8 212.4 317.4 215.5 317.5C218.6 317.6 220.2 315.2 222.0 317.0C223.8 318.8 224.8 324.2 226.0 328.0C227.2 331.8 227.7 336.3 229.0 340.0C230.3 343.7 231.6 348.1 233.6 350.0C235.6 351.9 238.7 350.5 241.2 351.5C243.7 352.5 246.5 353.5 248.8 356.0C251.1 358.5 252.8 364.4 254.8 366.7C256.8 369.0 258.4 369.7 260.9 369.7C263.4 369.7 265.9 368.0 270.0 366.7C274.1 365.4 281.2 362.1 285.5 361.8C289.8 361.5 291.9 363.1 296.0 364.8C300.1 366.5 306.0 368.6 310.0 372.0C314.0 375.4 317.2 384.5 320.0 385.0C322.8 385.5 323.7 374.5 327.0 375.0C330.3 375.5 336.2 385.5 340.0 388.0C343.8 390.5 346.7 389.3 350.0 390.0C353.3 390.7 357.1 390.7 360.0 392.1C362.9 393.5 363.8 396.9 367.6 398.2C371.4 399.5 377.6 401.6 382.7 399.7C387.8 397.8 393.3 388.7 397.9 386.8C402.4 384.9 405.7 388.1 410.0 388.3C414.3 388.6 419.3 386.7 423.6 388.3C427.9 389.9 431.2 396.3 435.8 398.2C440.4 400.1 443.5 398.9 450.9 399.7C458.3 400.5 472.1 402.3 480.0 403.0C487.9 403.7 492.0 404.6 498.0 404.0C504.0 403.4 510.7 399.2 516.0 399.5C521.3 399.8 524.6 403.1 530.0 405.5C535.4 407.9 541.4 413.5 548.2 414.2C555.0 414.9 562.3 410.3 570.9 409.7C579.5 409.1 593.1 409.8 600.0 410.5C606.9 411.2 607.3 412.8 612.0 414.0C616.7 415.2 622.5 417.2 628.0 418.0C633.5 418.8 638.8 419.2 645.0 418.5C651.2 417.8 659.5 415.8 665.0 414.0C670.5 412.2 673.8 408.9 678.0 408.0C682.2 407.1 685.7 408.3 690.0 408.5C694.3 408.7 699.1 409.1 704.0 409.3C708.9 409.6 714.2 410.7 719.5 410.0C724.8 409.3 731.7 405.6 736.0 405.0C740.3 404.4 742.2 405.6 745.3 406.5C748.4 407.4 751.2 409.9 754.4 410.2C757.5 410.5 759.5 408.3 764.2 408.3C768.9 408.3 777.0 410.3 782.6 410.1C788.2 409.9 792.7 408.0 798.0 407.0C803.3 406.0 810.0 403.9 814.4 404.0C818.8 404.1 820.9 408.1 824.2 407.8C827.5 407.6 829.7 402.8 834.0 402.5C838.3 402.2 844.8 405.1 850.0 406.0C855.2 406.9 859.9 407.7 865.0 408.0C870.1 408.3 875.5 408.2 880.9 407.6C886.3 407.0 891.3 405.1 897.6 404.5C903.9 403.9 911.5 404.6 918.8 403.8C926.1 403.1 935.8 399.9 941.5 400.0C947.2 400.1 951.1 403.8 953.0 404.5" stroke="#4BACC6"/><path d="M62.0 161.2C62.7 164.3 64.9 174.8 66.3 180.0C67.7 185.2 68.5 187.3 70.2 192.7C71.9 198.1 73.7 206.3 76.2 212.4C78.7 218.5 82.5 225.2 85.3 229.0C88.1 232.8 89.9 232.7 92.9 235.2C95.9 237.7 99.7 242.7 103.5 244.2C107.3 245.7 112.1 245.8 115.6 244.2C119.1 242.6 121.0 237.2 124.7 234.4C128.4 231.6 133.5 227.8 137.6 227.6C141.7 227.3 145.1 230.1 149.0 232.9C152.9 235.7 157.5 239.8 161.0 244.2C164.5 248.6 167.2 254.4 170.0 259.1C172.8 263.9 175.1 268.1 177.6 272.7C180.1 277.2 182.4 283.2 185.2 286.4C188.0 289.6 191.1 289.8 194.2 291.7C197.3 293.6 200.4 295.4 203.6 298.0C206.8 300.6 210.4 305.6 213.4 307.2C216.4 308.8 219.9 306.9 221.8 307.6C223.7 308.3 223.8 309.7 224.8 311.4C225.8 313.1 226.9 315.6 228.0 318.0C229.1 320.4 230.2 322.9 231.6 325.8C233.0 328.7 234.8 333.0 236.2 335.6C237.6 338.2 238.1 338.8 240.0 341.4C241.9 344.0 244.3 349.3 247.6 351.2C250.9 353.1 255.9 351.9 259.7 352.7C263.5 353.5 265.2 354.3 270.3 355.8C275.4 357.3 285.2 361.3 290.0 361.8C294.8 362.3 294.8 356.0 299.1 358.8C303.4 361.6 311.1 376.7 315.8 378.5C320.5 380.3 323.3 368.9 327.1 369.4C330.9 369.9 333.0 379.1 338.5 381.5C344.0 383.9 355.1 381.7 360.0 383.8C364.9 385.9 362.1 394.3 367.6 394.4C373.2 394.5 387.2 385.3 393.3 384.5C399.4 383.7 399.3 389.6 403.9 389.8C408.4 390.1 414.3 385.1 420.6 386.0C426.9 386.9 436.2 392.9 441.8 395.2C447.4 397.5 449.3 399.7 453.9 399.7C458.4 399.7 464.8 394.1 469.1 395.2C473.5 396.3 475.1 405.0 480.0 406.2C484.9 407.4 492.1 403.5 498.2 402.1C504.3 400.7 511.1 397.4 516.4 397.6C521.7 397.9 524.7 401.5 530.0 403.6C535.3 405.8 542.7 409.6 548.2 410.5C553.8 411.4 559.0 410.0 563.3 408.9C567.6 407.8 570.6 403.7 573.9 403.6C577.2 403.5 578.6 407.8 583.0 408.2C587.4 408.6 594.7 405.4 600.0 405.9C605.3 406.4 610.3 409.2 615.0 411.0C619.7 412.8 623.0 415.5 628.0 416.5C633.0 417.5 639.5 418.0 645.0 417.0C650.5 416.0 655.5 412.1 661.0 410.5C666.5 408.9 673.0 407.8 677.7 407.4C682.4 407.0 685.2 407.9 689.0 408.2C692.8 408.5 696.2 408.9 700.5 409.3C704.8 409.7 709.0 411.2 715.0 410.5C721.0 409.8 731.2 405.5 736.2 404.8C741.2 404.1 742.3 405.4 745.3 406.3C748.3 407.2 751.2 409.8 754.4 410.1C757.5 410.4 760.1 408.4 764.2 408.2C768.3 408.0 775.4 409.0 778.8 408.9C782.2 408.8 781.8 407.9 784.8 407.4C787.8 406.9 793.0 405.7 797.0 406.0C801.0 406.3 805.1 409.3 809.0 409.2C812.9 409.1 815.3 406.1 820.5 405.2C825.7 404.3 834.2 403.7 840.0 403.8C845.8 403.9 850.2 405.1 855.2 406.0C860.2 406.9 865.2 408.1 870.3 409.1C875.3 410.1 880.0 412.5 885.5 412.1C891.0 411.7 897.3 408.1 903.6 406.8C909.9 405.5 916.7 404.8 923.3 404.5C929.9 404.2 938.0 404.7 943.0 405.3C948.0 405.9 951.3 407.8 953.0 408.3" stroke="#F79646"/><path d="M62.0 305.5C63.6 306.2 68.5 309.6 71.6 310.0C74.7 310.4 77.3 306.3 80.7 307.7C84.1 309.1 88.8 318.1 92.1 318.3C95.4 318.6 97.5 312.6 100.4 309.2C103.3 305.8 106.5 300.0 109.5 297.9C112.5 295.8 115.6 298.2 118.6 296.7C121.6 295.2 124.4 290.8 127.7 289.1C131.0 287.5 134.2 286.3 138.3 286.8C142.4 287.3 147.7 288.2 152.0 292.1C156.3 296.0 160.7 305.5 164.0 310.3C167.3 315.1 169.5 318.6 172.0 321.0C174.5 323.4 176.7 324.2 179.1 325.0C181.5 325.8 184.2 324.4 186.7 325.8C189.2 327.2 191.4 332.3 194.2 333.3C197.0 334.3 200.0 330.8 203.3 331.8C206.6 332.8 210.9 338.6 213.9 339.4C216.9 340.2 219.5 335.5 221.5 336.4C223.5 337.3 224.2 339.4 226.0 345.0C227.8 350.6 229.7 362.5 232.0 370.0C234.3 377.5 236.9 386.8 240.0 389.8C243.1 392.9 247.1 387.7 250.6 388.3C254.1 388.9 257.9 393.7 261.2 393.6C264.5 393.5 267.0 387.9 270.3 387.6C273.6 387.4 277.4 392.4 280.9 392.1C284.4 391.8 287.7 386.2 291.5 386.0C295.3 385.8 300.5 388.9 303.6 390.6C306.7 392.3 307.7 393.8 310.0 396.1C312.3 398.4 314.9 405.4 317.5 404.3C320.1 403.2 322.7 389.4 325.8 389.5C328.9 389.6 332.7 401.5 336.4 404.7C340.1 407.9 344.0 407.7 347.9 408.9C351.8 410.1 357.0 409.8 360.0 411.7C363.0 413.6 363.6 419.6 366.1 420.0C368.6 420.4 372.2 414.4 375.2 413.9C378.2 413.4 380.7 417.6 384.2 417.0C387.7 416.4 391.9 411.2 396.4 410.2C400.9 409.2 407.1 410.6 411.0 411.0C414.9 411.4 417.3 411.1 420.0 412.5C422.7 413.9 423.6 419.6 427.0 419.5C430.4 419.4 436.8 412.1 440.5 411.8C444.2 411.6 446.0 416.4 449.0 418.0C452.0 419.6 455.1 421.2 458.5 421.5C461.9 421.8 465.5 419.0 469.1 420.0C472.7 421.0 476.9 425.7 480.0 427.3C483.1 428.9 484.6 430.1 487.6 429.5C490.6 428.9 494.9 424.1 498.2 423.5C501.5 422.9 504.3 426.2 507.3 425.8C510.3 425.4 512.6 420.8 516.4 421.2C520.2 421.6 524.7 426.2 530.0 428.0C535.3 429.8 540.9 432.3 548.2 431.8C555.5 431.3 566.6 426.1 573.9 425.0C581.2 423.9 587.8 424.5 592.1 425.0C596.5 425.5 595.4 426.8 600.0 428.0C604.6 429.2 613.3 430.7 620.0 432.0C626.7 433.3 633.3 436.2 640.0 436.0C646.7 435.8 654.2 432.2 660.0 431.0C665.8 429.8 670.0 429.5 675.0 428.6C680.0 427.7 684.2 426.4 690.0 425.5C695.8 424.6 703.4 424.1 709.5 423.5C715.6 422.9 721.6 422.1 726.4 421.8C731.1 421.5 733.3 420.8 738.0 421.5C742.7 422.2 748.2 425.2 754.4 425.8C760.6 426.4 766.5 426.2 775.0 425.2C783.5 424.2 796.5 420.2 805.3 419.9C814.1 419.6 822.2 423.0 828.0 423.3C833.8 423.6 834.0 422.2 840.0 421.7C846.0 421.2 851.6 420.2 864.2 420.2C876.8 420.2 902.7 422.0 915.8 421.7C928.9 421.4 936.8 417.5 943.0 418.6C949.2 419.7 951.3 426.9 953.0 428.5" stroke="#95B3D7"/><path d="M62.0 202.0C62.8 204.2 65.4 210.7 67.0 215.5C68.6 220.3 69.9 226.3 71.7 230.6C73.5 234.9 75.9 238.1 77.7 241.2C79.5 244.3 80.3 246.2 82.3 249.1C84.3 252.0 87.0 256.2 89.8 258.9C92.6 261.5 95.7 265.1 99.0 265.0C102.3 264.9 106.5 258.6 109.5 258.2C112.5 257.8 114.2 263.5 117.0 262.7C119.8 261.9 122.8 256.2 126.2 253.6C129.6 250.9 133.8 247.3 137.6 246.8C141.4 246.3 145.1 248.4 149.0 250.6C152.9 252.8 157.5 255.8 161.0 259.7C164.5 263.6 167.2 269.8 170.0 274.2C172.8 278.6 175.1 283.5 177.6 286.4C180.1 289.3 182.4 289.2 185.2 291.7C188.0 294.2 191.2 299.4 194.2 301.5C197.2 303.6 200.3 302.6 203.3 304.0C206.3 305.4 209.5 308.9 212.4 309.8C215.3 310.7 218.4 309.0 220.5 309.5C222.6 310.0 223.6 309.6 224.8 313.0C226.1 316.4 226.6 324.2 228.0 330.0C229.4 335.8 231.0 343.7 233.0 348.0C235.0 352.3 237.1 352.7 240.0 355.8C242.9 358.9 247.3 365.3 250.6 366.4C253.9 367.5 255.9 361.9 259.7 362.6C263.5 363.4 269.8 368.8 273.3 370.9C276.8 373.0 277.6 376.2 280.9 375.5C284.2 374.8 288.9 367.4 293.0 366.4C297.1 365.4 301.1 366.1 305.2 369.4C309.2 372.7 313.6 385.8 317.3 386.0C321.0 386.2 324.3 369.6 327.1 370.9C329.9 372.2 330.2 390.3 333.9 393.6C337.6 396.9 344.8 390.1 349.1 390.6C353.5 391.1 356.7 395.1 360.0 396.7C363.3 398.3 365.3 399.8 369.1 400.5C372.9 401.2 378.4 402.1 382.7 401.2C387.0 400.3 390.2 396.5 394.8 395.2C399.4 393.9 405.2 394.1 410.0 393.6C414.8 393.1 419.8 390.3 423.6 392.1C427.4 393.9 429.2 402.4 432.7 404.2C436.2 406.0 440.2 402.3 444.8 402.7C449.4 403.1 455.9 406.5 460.0 406.5C464.1 406.5 465.8 401.8 469.1 402.7C472.4 403.6 475.1 411.5 480.0 412.0C484.9 412.5 493.6 406.8 498.2 405.9C502.8 405.0 504.3 407.7 507.3 406.7C510.3 405.7 512.6 399.8 516.4 399.8C520.2 399.8 525.5 404.0 530.0 406.7C534.5 409.4 538.1 415.1 543.6 415.8C549.1 416.6 558.2 412.6 563.3 411.2C568.3 409.8 570.1 407.4 573.9 407.4C577.7 407.4 581.8 410.6 586.1 411.2C590.5 411.8 595.1 410.1 600.0 411.0C604.9 411.9 610.2 415.5 615.2 416.7C620.2 417.9 624.8 417.2 630.3 418.2C635.8 419.2 643.5 423.2 648.5 422.7C653.5 422.2 656.6 416.6 660.6 415.2C664.6 413.8 668.7 415.3 672.7 414.4C676.7 413.5 679.2 410.2 684.8 409.8C690.4 409.4 700.2 412.0 706.1 412.1C712.0 412.2 715.1 411.4 720.0 410.6C724.9 409.9 729.4 407.1 735.2 407.6C741.0 408.1 749.2 413.0 754.8 413.6C760.3 414.2 764.2 411.4 768.5 411.4C772.8 411.4 776.1 414.4 780.6 413.6C785.1 412.8 791.2 408.3 795.8 406.8C800.3 405.3 804.4 403.9 807.9 404.5C811.4 405.1 811.6 409.9 817.0 410.6C822.4 411.3 832.4 408.6 840.0 408.5C847.6 408.4 855.1 408.7 862.7 409.8C870.3 410.9 879.7 415.1 885.5 415.2C891.3 415.3 890.0 411.8 897.6 410.6C905.2 409.5 921.7 408.2 930.9 408.3C940.1 408.4 949.3 410.9 953.0 411.4" stroke="#D99694"/><path d="M62.0 302.4C63.6 303.8 68.5 310.5 71.6 310.8C74.7 311.1 77.7 303.9 80.7 304.3C83.7 304.7 87.3 311.0 89.8 313.3C92.3 315.6 94.1 318.0 95.9 318.3C97.7 318.6 98.1 318.8 100.4 315.3C102.7 311.8 106.6 300.4 109.5 297.1C112.4 293.8 115.0 298.5 118.0 295.6C121.0 292.7 124.5 282.7 127.7 279.5C130.9 276.3 133.9 276.5 137.0 276.5C140.1 276.5 143.5 278.1 146.0 279.5C148.5 280.9 149.0 281.6 152.0 285.0C155.0 288.4 161.0 295.4 164.0 299.7C167.0 304.0 167.2 307.9 170.0 311.0C172.8 314.1 176.8 316.5 180.6 318.2C184.4 319.9 189.4 319.9 192.7 321.2C196.0 322.5 196.5 324.0 200.3 325.8C204.1 327.6 212.0 330.3 215.5 331.8C219.0 333.3 219.8 332.5 221.5 334.8C223.2 337.1 224.6 341.6 226.0 345.5C227.4 349.4 228.1 351.5 229.7 357.9C231.3 364.2 233.8 377.3 235.8 383.6C237.8 389.9 239.3 395.1 241.8 395.5C244.3 395.9 247.7 385.1 250.9 386.0C254.1 386.9 258.2 398.5 261.2 401.2C264.2 403.9 265.5 401.6 269.1 402.1C272.7 402.6 277.9 404.4 282.7 404.4C287.5 404.4 293.6 401.5 297.9 402.1C302.2 402.7 305.4 405.4 308.5 408.2C311.6 411.0 314.8 418.1 316.8 418.8C318.8 419.6 319.0 417.0 320.6 412.7C322.2 408.4 324.7 394.8 326.7 393.0C328.7 391.2 330.2 399.2 332.7 402.1C335.2 405.0 338.3 408.9 341.8 410.5C345.3 412.1 350.4 410.1 353.9 412.0C357.4 413.9 360.5 419.3 363.0 421.8C365.5 424.3 365.8 427.2 369.1 426.8C372.4 426.4 377.1 421.6 382.7 419.2C388.3 416.8 397.8 413.4 402.6 412.1C407.4 410.8 408.7 411.9 411.7 411.4C414.7 410.9 417.5 408.0 420.8 409.1C424.1 410.2 428.1 417.1 431.4 417.8C434.7 418.5 436.0 412.6 440.5 413.3C445.0 414.1 451.9 420.2 458.5 422.3C465.1 424.4 473.4 426.0 480.0 425.8C486.6 425.6 493.6 421.6 498.2 421.2C502.8 420.8 504.3 423.9 507.3 423.5C510.3 423.1 512.6 418.3 516.4 418.9C520.2 419.5 524.7 425.0 530.0 427.3C535.3 429.6 542.7 432.1 548.2 432.6C553.8 433.1 559.0 431.4 563.3 430.3C567.6 429.2 570.1 425.9 573.9 425.8C577.7 425.7 581.8 429.2 586.1 429.5C590.5 429.8 595.1 427.1 600.0 427.7C604.9 428.3 608.9 431.4 615.2 433.0C621.5 434.6 630.3 438.0 637.9 437.6C645.5 437.2 652.3 433.1 660.6 430.8C668.9 428.5 680.3 424.2 687.9 423.9C695.5 423.6 700.8 429.1 706.1 429.2C711.5 429.3 714.4 426.2 720.0 424.7C725.6 423.2 733.6 420.2 739.7 420.2C745.8 420.2 749.6 424.2 756.4 424.7C763.2 425.2 773.0 424.6 780.6 423.2C788.2 421.8 794.5 416.9 801.8 416.4C809.1 415.9 818.1 419.8 824.5 420.2C830.9 420.6 834.9 418.2 840.0 418.6C845.1 419.0 847.9 421.4 855.2 422.4C862.5 423.4 876.8 424.9 883.9 424.7C891.0 424.4 889.8 421.8 897.6 420.9C905.4 420.0 921.7 419.0 930.9 419.4C940.1 419.8 949.3 422.6 953.0 423.2" stroke="#C3D69B"/><path d="M62.0 152.1C62.6 155.1 64.0 164.2 65.6 170.0C67.2 175.8 69.4 182.0 71.7 186.7C74.0 191.4 76.9 193.7 79.2 198.0C81.5 202.3 83.3 207.2 85.3 212.4C87.3 217.6 88.9 225.3 91.4 229.0C93.9 232.7 97.5 234.3 100.5 234.4C103.5 234.5 106.8 229.8 109.5 229.8C112.2 229.8 114.0 235.8 117.0 234.4C120.0 233.0 124.3 224.5 127.7 221.5C131.1 218.5 134.6 216.4 137.6 216.2C140.6 215.9 143.0 218.7 145.9 220.0C148.8 221.3 152.0 221.5 155.0 223.8C158.0 226.1 161.5 230.5 164.0 233.6C166.5 236.7 167.0 239.2 170.0 242.4C173.0 245.6 179.1 249.2 182.1 253.0C185.1 256.8 186.4 260.9 188.2 265.2C190.0 269.5 191.2 275.5 192.7 278.8C194.2 282.1 195.3 283.9 197.3 284.8C199.3 285.7 202.3 283.0 204.8 284.1C207.3 285.2 209.6 290.8 212.4 291.7C215.2 292.6 219.4 288.8 221.5 289.4C223.6 289.9 223.8 289.9 225.0 295.0C226.2 300.1 227.7 311.7 229.0 320.0C230.3 328.3 231.2 339.8 233.0 345.0C234.8 350.2 237.3 350.4 240.0 351.2C242.7 352.0 245.6 346.7 249.1 349.7C252.6 352.7 257.7 367.9 261.2 369.4C264.7 370.9 266.5 359.6 270.3 358.8C274.1 358.0 278.8 365.6 283.9 364.8C288.9 364.0 295.3 352.4 300.6 354.2C305.9 356.0 311.4 373.2 315.8 375.5C320.2 377.8 323.3 367.1 327.1 367.9C330.9 368.6 334.7 377.6 338.5 380.0C342.3 382.4 346.4 381.0 350.0 382.0C353.6 383.0 357.1 384.3 360.0 386.0C362.9 387.7 365.1 391.5 367.6 392.1C370.1 392.7 372.7 389.6 375.2 389.8C377.7 390.1 379.2 394.4 382.7 393.6C386.2 392.9 390.1 387.4 396.4 385.3C402.7 383.2 414.0 380.7 420.6 380.8C427.2 380.9 430.2 384.5 435.8 386.0C441.4 387.5 448.3 388.0 453.9 389.8C459.4 391.6 464.8 395.1 469.1 396.7C473.5 398.3 475.1 399.5 480.0 399.7C484.9 399.9 492.1 398.6 498.2 397.6C504.3 396.6 511.1 393.3 516.4 393.8C521.7 394.3 524.7 398.2 530.0 400.6C535.3 403.0 542.7 407.2 548.2 408.2C553.8 409.2 559.0 408.0 563.3 406.7C567.6 405.4 570.6 400.6 573.9 400.6C577.2 400.6 578.6 405.7 583.0 406.7C587.4 407.7 594.6 406.3 600.0 406.7C605.4 407.1 610.2 407.7 615.2 409.1C620.2 410.5 625.8 413.7 630.3 415.2C634.8 416.7 637.3 418.5 642.4 418.2C647.5 417.9 654.0 415.9 660.6 413.6C667.2 411.3 674.2 405.6 681.8 404.5C689.4 403.4 699.7 406.7 706.1 406.8C712.5 406.9 714.4 405.9 720.0 405.0C725.6 404.1 733.9 401.2 739.7 401.5C745.5 401.8 749.8 406.4 754.8 406.8C759.8 407.2 764.7 404.2 770.0 403.8C775.3 403.4 779.9 405.1 786.7 404.5C793.5 403.9 802.0 400.0 810.9 400.0C819.8 400.0 830.9 403.8 840.0 404.5C849.1 405.2 859.5 403.9 865.8 404.5C872.1 405.1 871.6 407.7 877.9 408.3C884.2 408.9 894.8 408.8 903.6 408.3C912.4 407.8 922.7 405.9 930.9 405.3C939.1 404.7 949.3 404.6 953.0 404.5" stroke="#B3A2C7"/></g><line x1="977.5" y1="115.5" x2="996.5" y2="115.5" stroke="#3D6AA4" stroke-width="3.6" stroke-linecap="round"/><text x="998.8" y="119.6" font-size="9.6" fill="#111" textLength="10" lengthAdjust="spacingAndGlyphs">A1</text><line x1="977.5" y1="135.2" x2="996.5" y2="135.2" stroke="#A43C3A" stroke-width="3.6" stroke-linecap="round"/><text x="998.8" y="139.3" font-size="9.6" fill="#111" textLength="10" lengthAdjust="spacingAndGlyphs">A2</text><line x1="977.5" y1="154.9" x2="996.5" y2="154.9" stroke="#7E9D48" stroke-width="3.6" stroke-linecap="round"/><text x="998.8" y="159.0" font-size="9.6" fill="#111" textLength="10" lengthAdjust="spacingAndGlyphs">B1</text><line x1="977.5" y1="174.6" x2="996.5" y2="174.6" stroke="#694F8C" stroke-width="3.6" stroke-linecap="round"/><text x="998.8" y="178.7" font-size="9.6" fill="#111" textLength="10" lengthAdjust="spacingAndGlyphs">B2</text><line x1="977.5" y1="194.3" x2="996.5" y2="194.3" stroke="#3A92A8" stroke-width="3.6" stroke-linecap="round"/><text x="998.8" y="198.4" font-size="9.6" fill="#111" textLength="10" lengthAdjust="spacingAndGlyphs">C1</text><line x1="977.5" y1="214.0" x2="996.5" y2="214.0" stroke="#D6792F" stroke-width="3.6" stroke-linecap="round"/><text x="998.8" y="218.1" font-size="9.6" fill="#111" textLength="10" lengthAdjust="spacingAndGlyphs">C2</text><line x1="977.5" y1="233.7" x2="996.5" y2="233.7" stroke="#4A7EC4" stroke-width="3.6" stroke-linecap="round"/><text x="998.8" y="237.8" font-size="9.6" fill="#111" textLength="10" lengthAdjust="spacingAndGlyphs">D1</text><line x1="977.5" y1="253.4" x2="996.5" y2="253.4" stroke="#C0504D" stroke-width="3.6" stroke-linecap="round"/><text x="998.8" y="257.5" font-size="9.6" fill="#111" textLength="10" lengthAdjust="spacingAndGlyphs">D2</text><line x1="977.5" y1="273.1" x2="996.5" y2="273.1" stroke="#9BBB59" stroke-width="3.6" stroke-linecap="round"/><text x="998.8" y="277.2" font-size="9.6" fill="#111" textLength="10" lengthAdjust="spacingAndGlyphs">E1</text><line x1="977.5" y1="292.8" x2="996.5" y2="292.8" stroke="#8064A2" stroke-width="3.6" stroke-linecap="round"/><text x="998.8" y="296.9" font-size="9.6" fill="#111" textLength="10" lengthAdjust="spacingAndGlyphs">E2</text><line x1="977.5" y1="312.5" x2="996.5" y2="312.5" stroke="#4BACC6" stroke-width="3.6" stroke-linecap="round"/><text x="998.8" y="316.6" font-size="9.6" fill="#111" textLength="10" lengthAdjust="spacingAndGlyphs">F1</text><line x1="977.5" y1="332.2" x2="996.5" y2="332.2" stroke="#F79646" stroke-width="3.6" stroke-linecap="round"/><text x="998.8" y="336.3" font-size="9.6" fill="#111" textLength="10" lengthAdjust="spacingAndGlyphs">F2</text><line x1="977.5" y1="351.9" x2="996.5" y2="351.9" stroke="#95B3D7" stroke-width="3.6" stroke-linecap="round"/><text x="998.8" y="356.0" font-size="9.6" fill="#111" textLength="10" lengthAdjust="spacingAndGlyphs">G1</text><line x1="977.5" y1="371.6" x2="996.5" y2="371.6" stroke="#D99694" stroke-width="3.6" stroke-linecap="round"/><text x="998.8" y="375.7" font-size="9.6" fill="#111" textLength="10" lengthAdjust="spacingAndGlyphs">G2</text><line x1="977.5" y1="391.3" x2="996.5" y2="391.3" stroke="#C3D69B" stroke-width="3.6" stroke-linecap="round"/><text x="998.8" y="395.4" font-size="9.6" fill="#111" textLength="10" lengthAdjust="spacingAndGlyphs">H1</text><line x1="977.5" y1="411.0" x2="996.5" y2="411.0" stroke="#B3A2C7" stroke-width="3.6" stroke-linecap="round"/><text x="998.8" y="415.1" font-size="9.6" fill="#111" textLength="10" lengthAdjust="spacingAndGlyphs">H2</text><text x="54.6" y="495.7" font-size="9.8" fill="#1a1a1a" textLength="14.6" lengthAdjust="spacingAndGlyphs">230</text><text x="149.3" y="495.7" font-size="9.8" fill="#1a1a1a" textLength="14.6" lengthAdjust="spacingAndGlyphs">280</text><text x="244.0" y="495.7" font-size="9.8" fill="#1a1a1a" textLength="14.6" lengthAdjust="spacingAndGlyphs">330</text><text x="338.7" y="495.7" font-size="9.8" fill="#1a1a1a" textLength="14.6" lengthAdjust="spacingAndGlyphs">380</text><text x="433.4" y="495.7" font-size="9.8" fill="#1a1a1a" textLength="14.6" lengthAdjust="spacingAndGlyphs">430</text><text x="528.1" y="495.7" font-size="9.8" fill="#1a1a1a" textLength="14.6" lengthAdjust="spacingAndGlyphs">480</text><text x="622.9" y="495.7" font-size="9.8" fill="#1a1a1a" textLength="14.6" lengthAdjust="spacingAndGlyphs">530</text><text x="717.6" y="495.7" font-size="9.8" fill="#1a1a1a" textLength="14.6" lengthAdjust="spacingAndGlyphs">580</text><text x="812.3" y="495.7" font-size="9.8" fill="#1a1a1a" textLength="14.6" lengthAdjust="spacingAndGlyphs">630</text><text x="907.0" y="495.7" font-size="9.8" fill="#1a1a1a" textLength="14.6" lengthAdjust="spacingAndGlyphs">680</text><text x="34.9" y="18.0" font-size="9.8" fill="#1a1a1a" textLength="17.2" lengthAdjust="spacingAndGlyphs">0.05</text><text x="30.1" y="134.9" font-size="9.8" fill="#1a1a1a" textLength="22.0" lengthAdjust="spacingAndGlyphs">0.045</text><text x="34.9" y="250.7" font-size="9.8" fill="#1a1a1a" textLength="17.2" lengthAdjust="spacingAndGlyphs">0.04</text><text x="30.1" y="367.0" font-size="9.8" fill="#1a1a1a" textLength="22.0" lengthAdjust="spacingAndGlyphs">0.035</text><text x="34.9" y="483.9" font-size="9.8" fill="#1a1a1a" textLength="17.2" lengthAdjust="spacingAndGlyphs">0.03</text><text x="507" y="510.9" font-size="9" font-weight="bold" fill="#111" text-anchor="middle">Wavelength (nm)</text><text transform="translate(24.6 246.3) rotate(-90)" x="0" y="0" font-size="9" font-weight="bold" fill="#111" text-anchor="middle" textLength="88.5" lengthAdjust="spacingAndGlyphs">Absorbance (unitless)</text></svg>
<div class="frame"></div></div>
</body></html>
